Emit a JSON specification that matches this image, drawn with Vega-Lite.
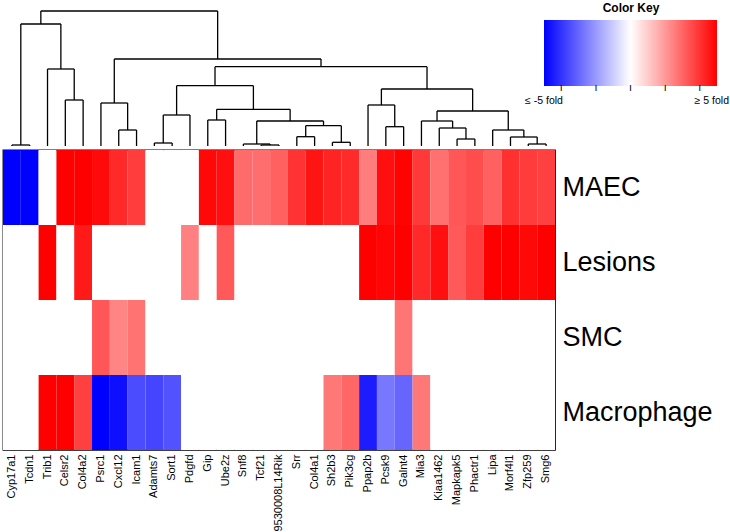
{
  "$schema": "https://vega.github.io/schema/vega-lite/v6.json",
  "background": "white",
  "padding": {"left": 2, "top": 0, "right": 0, "bottom": 0},
  "config": {"view": {"stroke": null}, "font": "Liberation Sans"},
  "spacing": 2,
  "datasets": {
    "tree": [
      {"xl": 0.5, "xr": 1.5, "hl": 0, "hr": 0, "h": 1},
      {"xl": 3.5, "xr": 4.5, "hl": 0, "hr": 0, "h": 46},
      {"xl": 2.5, "xr": 4.0, "hl": 0, "hr": 46, "h": 77},
      {"xl": 1.0, "xr": 3.25, "hl": 1, "hr": 77, "h": 122},
      {"xl": 6.5, "xr": 7.5, "hl": 0, "hr": 0, "h": 16},
      {"xl": 5.5, "xr": 7.0, "hl": 0, "hr": 16, "h": 43},
      {"xl": 8.5, "xr": 9.5, "hl": 0, "hr": 0, "h": 3},
      {"xl": 9.0, "xr": 10.5, "hl": 3, "hr": 0, "h": 31},
      {"xl": 11.5, "xr": 12.5, "hl": 0, "hr": 0, "h": 26},
      {"xl": 14.5, "xr": 15.5, "hl": 0, "hr": 0, "h": 1},
      {"xl": 13.5, "xr": 15.0, "hl": 0, "hr": 1, "h": 2},
      {"xl": 16.5, "xr": 17.5, "hl": 0, "hr": 0, "h": 9.3},
      {"xl": 18.5, "xr": 19.5, "hl": 0, "hr": 0, "h": 3.7},
      {"xl": 17.0, "xr": 19.0, "hl": 9.3, "hr": 3.7, "h": 20.3},
      {"xl": 14.25, "xr": 18.0, "hl": 2, "hr": 20.3, "h": 25},
      {"xl": 12.0, "xr": 16.125, "hl": 26, "hr": 25, "h": 36.7},
      {"xl": 9.75, "xr": 14.0625, "hl": 31, "hr": 36.7, "h": 60.3},
      {"xl": 21.5, "xr": 22.5, "hl": 0, "hr": 0, "h": 19.3},
      {"xl": 20.5, "xr": 22.0, "hl": 0, "hr": 19.3, "h": 41},
      {"xl": 25.5, "xr": 26.5, "hl": 0, "hr": 0, "h": 7},
      {"xl": 24.5, "xr": 26.0, "hl": 0, "hr": 7, "h": 18},
      {"xl": 23.5, "xr": 25.25, "hl": 0, "hr": 18, "h": 25},
      {"xl": 29.5, "xr": 30.5, "hl": 0, "hr": 0, "h": 2},
      {"xl": 28.5, "xr": 30.0, "hl": 0, "hr": 2, "h": 9},
      {"xl": 27.5, "xr": 29.25, "hl": 0, "hr": 9, "h": 16},
      {"xl": 24.375, "xr": 28.375, "hl": 25, "hr": 16, "h": 35},
      {"xl": 21.25, "xr": 26.375, "hl": 41, "hr": 35, "h": 57},
      {"xl": 11.90625, "xr": 23.8125, "hl": 60.3, "hr": 57, "h": 79.3},
      {"xl": 6.25, "xr": 17.859375, "hl": 43, "hr": 79.3, "h": 87},
      {"xl": 2.125, "xr": 12.0546875, "hl": 122, "hr": 87, "h": 135}
    ],
    "expr": [
      {"gene": "Cyp17a1", "MAEC": -5, "Lesions": 0, "SMC": 0, "Macrophage": 0},
      {"gene": "Tcdn1", "MAEC": -5, "Lesions": 0, "SMC": 0, "Macrophage": 0},
      {"gene": "Trib1", "MAEC": 0, "Lesions": 5, "SMC": 0, "Macrophage": 5},
      {"gene": "Celsr2", "MAEC": 5, "Lesions": 0, "SMC": 0, "Macrophage": 5},
      {"gene": "Col4a2", "MAEC": 5, "Lesions": 4.5, "SMC": 0, "Macrophage": 3.75},
      {"gene": "Psrc1", "MAEC": 4.8, "Lesions": 0, "SMC": 3.3, "Macrophage": -5},
      {"gene": "Cxcl12", "MAEC": 4.2, "Lesions": 0, "SMC": 2.4, "Macrophage": -4.7},
      {"gene": "Icam1", "MAEC": 3.8, "Lesions": 0, "SMC": 2.75, "Macrophage": -3.5},
      {"gene": "Adamts7", "MAEC": 0, "Lesions": 0, "SMC": 0, "Macrophage": -3.65},
      {"gene": "Sort1", "MAEC": 0, "Lesions": 0, "SMC": 0, "Macrophage": -3.4},
      {"gene": "Pdgfd", "MAEC": 0, "Lesions": 2.5, "SMC": 0, "Macrophage": 0},
      {"gene": "Gip", "MAEC": 4.85, "Lesions": 0, "SMC": 0, "Macrophage": 0},
      {"gene": "Ube2z", "MAEC": 4.7, "Lesions": 3.25, "SMC": 0, "Macrophage": 0},
      {"gene": "Snf8", "MAEC": 2.9, "Lesions": 0, "SMC": 0, "Macrophage": 0},
      {"gene": "Tcf21", "MAEC": 2.85, "Lesions": 0, "SMC": 0, "Macrophage": 0},
      {"gene": "9530008L14Rik", "MAEC": 3.1, "Lesions": 0, "SMC": 0, "Macrophage": 0},
      {"gene": "Srr", "MAEC": 4.0, "Lesions": 0, "SMC": 0, "Macrophage": 0},
      {"gene": "Col4a1", "MAEC": 4.6, "Lesions": 0, "SMC": 0, "Macrophage": 0},
      {"gene": "Sh2b3", "MAEC": 4.3, "Lesions": 0, "SMC": 0, "Macrophage": 2.65},
      {"gene": "Pik3cg", "MAEC": 4.15, "Lesions": 0, "SMC": 0, "Macrophage": 3.0},
      {"gene": "Ppap2b", "MAEC": 2.55, "Lesions": 5, "SMC": 0, "Macrophage": -4.45},
      {"gene": "Pcsk9", "MAEC": 4.7, "Lesions": 4.9, "SMC": 0, "Macrophage": -2.65},
      {"gene": "Galnt4", "MAEC": 4.95, "Lesions": 5, "SMC": 2.7, "Macrophage": -3.0},
      {"gene": "Mia3", "MAEC": 3.9, "Lesions": 4.2, "SMC": 0, "Macrophage": 2.65},
      {"gene": "Kiaa1462", "MAEC": 2.8, "Lesions": 4.7, "SMC": 0, "Macrophage": 0},
      {"gene": "Mapkapk5", "MAEC": 3.3, "Lesions": 3.25, "SMC": 0, "Macrophage": 0},
      {"gene": "Phactr1", "MAEC": 3.5, "Lesions": 3.8, "SMC": 0, "Macrophage": 0},
      {"gene": "Lipa", "MAEC": 3.1, "Lesions": 5, "SMC": 0, "Macrophage": 0},
      {"gene": "Morf4l1", "MAEC": 4.05, "Lesions": 5, "SMC": 0, "Macrophage": 0},
      {"gene": "Zfp259", "MAEC": 3.85, "Lesions": 4.85, "SMC": 0, "Macrophage": 0},
      {"gene": "Smg6", "MAEC": 3.75, "Lesions": 5, "SMC": 0, "Macrophage": 0}
    ]
  },
  "vconcat": [
    {
      "width": 552,
      "height": 146,
      "data": {"name": "tree"},
      "layer": [
        {
          "mark": {"type": "rule", "color": "black", "strokeWidth": 1.3},
          "encoding": {
            "x": {"field": "xl", "type": "quantitative", "scale": {"domain": [0, 31], "nice": false, "zero": false}, "axis": null},
            "x2": {"field": "xr"},
            "y": {"field": "h", "type": "quantitative", "scale": {"domain": [0, 146], "nice": false}, "axis": null}
          }
        },
        {
          "mark": {"type": "rule", "color": "black", "strokeWidth": 1.3},
          "encoding": {
            "x": {"field": "xl", "type": "quantitative"},
            "y": {"field": "hl", "type": "quantitative"},
            "y2": {"field": "h"}
          }
        },
        {
          "mark": {"type": "rule", "color": "black", "strokeWidth": 1.3},
          "encoding": {
            "x": {"field": "xr", "type": "quantitative"},
            "y": {"field": "hr", "type": "quantitative"},
            "y2": {"field": "h"}
          }
        }
      ]
    },
    {
      "width": 552,
      "height": 300,
      "view": {"stroke": "black", "strokeWidth": 1.3},
      "data": {"name": "expr"},
      "transform": [{"fold": ["MAEC", "Lesions", "SMC", "Macrophage"], "as": ["row", "v"]}],
      "mark": {"type": "rect"},
      "encoding": {
        "x": {
          "field": "gene", "type": "nominal", "sort": null,
          "scale": {"paddingInner": 0, "paddingOuter": 0},
          "axis": {"title": null, "labelAngle": -90, "labelFontSize": 11, "labelColor": "black", "ticks": false, "domain": false, "labelPadding": 4}
        },
        "y": {
          "field": "row", "type": "nominal", "sort": ["MAEC", "Lesions", "SMC", "Macrophage"],
          "scale": {"paddingInner": 0, "paddingOuter": 0},
          "axis": {"orient": "right", "title": null, "ticks": false, "domain": false, "labelFontSize": 27, "labelPadding": 7, "labelColor": "black", "labelAngle": 0}
        },
        "color": {
          "field": "v", "type": "quantitative",
          "scale": {"domain": [-5, 0, 5], "range": ["#0000ff", "#ffffff", "#ff0000"], "interpolate": "rgb"},
          "legend": {
            "orient": "none", "legendX": 541, "legendY": 3,
            "direction": "horizontal",
            "title": "Color Key", "titleFontSize": 12, "titleFontWeight": "bold", "titleAnchor": "middle", "titleColor": "black", "titlePadding": 5,
            "gradientLength": 173, "gradientThickness": 66, "gradientStrokeWidth": 0,
            "values": [-4.999, -4, -2, 0, 2, 4, 4.7],
            "labelExpr": "datum.value < -4.5 ? ['', '≤ -5 fold'] : datum.value > 4.5 ? ['', '≥ 5 fold'] : 'ı'",
            "labelFontSize": 10.5, "labelColor": "black", "labelOverlap": false, "labelAlign": "center", "labelBaseline": "top", "labelOffset": -3, "labelLineHeight": 8
          }
        }
      }
    }
  ]
}
